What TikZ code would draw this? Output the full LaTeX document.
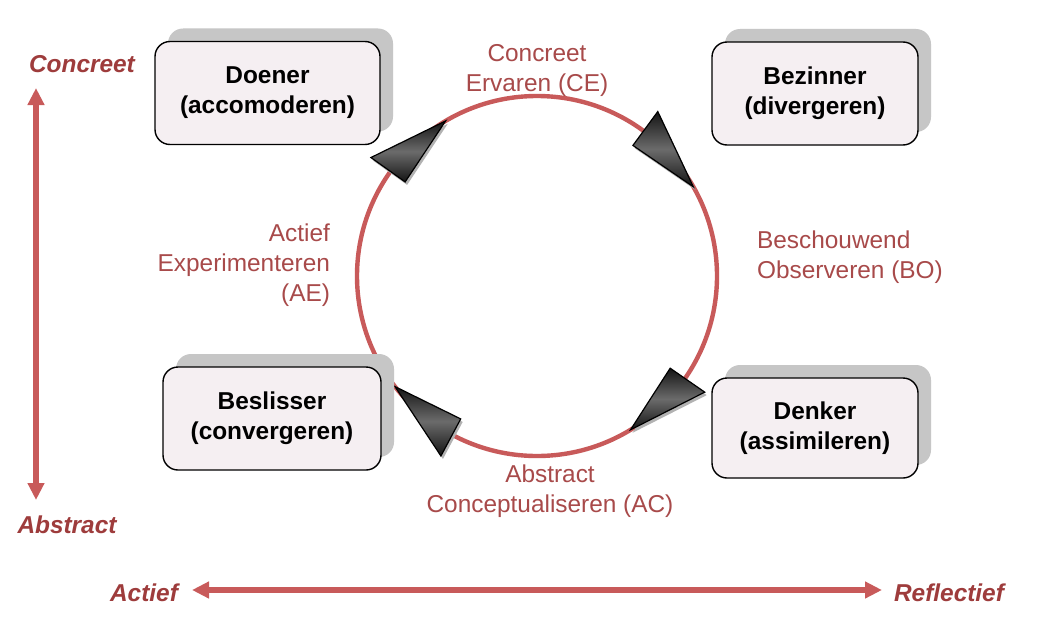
\documentclass[tikz,border=0pt]{standalone}
\usepackage{fontspec}
\setmainfont{Liberation Sans}
\definecolor{CycleRed}{HTML}{C85A5A}
\definecolor{LabelRed}{HTML}{A84A4A}
\definecolor{AxisRed}{HTML}{9E3C3C}
\definecolor{BoxFill}{HTML}{F5EFF2}
\definecolor{BoxShadow}{HTML}{C6C6C6}
\usetikzlibrary{arrows.meta, positioning, calc, shadows}

\begin{document}
\begin{tikzpicture}[x=0.5pt, y=0.5pt,
  stylebox/.style={draw=black, line width=0.7pt, fill=BoxFill, rounded corners=7.5pt,
    minimum width=#1, minimum height=51.5pt, align=center,
    font=\fontsize{12.2}{15}\selectfont\bfseries,
    drop shadow={shadow xshift=6.5pt, shadow yshift=6.5pt, fill=BoxShadow, opacity=1}},
  cyclelabel/.style={text=LabelRed, font=\fontsize{12.2}{15}\selectfont},
  axislabel/.style={text=AxisRed, font=\fontsize{12.2}{15}\selectfont\bfseries\itshape},
  axisarrow/.style={CycleRed, line width=3pt, {Triangle[width=8pt, length=8.5pt]}-{Triangle[width=8pt, length=8.5pt]}}]
  \useasboundingbox (0,0) rectangle (1038,623);
  \fill[white] (0,0) rectangle (1038,623);

  % cycle
  \coordinate (c) at (537,347);
  \draw[CycleRed, line width=2.2pt] (c) circle[radius=180];
  \foreach \t in {120.5, 29.7, -58.7, -142.1} {
    \fill[gray!60] ($(c)+(\t:180)+(2,-3)$) -- ($(c)+(\t+24:162)+(2,-3)$)
      -- ($(c)+(\t+24:204)+(2,-3)$) -- cycle;
    \shadedraw[draw=black, line width=0.6pt, shading angle=\t-78,
      top color=black!92, bottom color=black!92, middle color=black!58]
      ($(c)+(\t:180)$) -- ($(c)+(\t+24:162)$) -- ($(c)+(\t+24:204)$) -- cycle;
  }

  % styles
  \node[stylebox=112.5pt] (doener) at (267.5,530) {Doener\\(accomoderen)};
  \node[stylebox=103pt] (bezinner) at (815,529.5) {Bezinner\\(divergeren)};
  \node[stylebox=109pt] (beslisser) at (272,204.5) {Beslisser\\(convergeren)};
  \node[stylebox=103pt, minimum height=50pt] (denker) at (815,195) {Denker\\(assimileren)};

  % phases
  \node[cyclelabel, align=center] (ce) at (537,552) {Concreet\\Ervaren (CE)};
  \node[cyclelabel, align=left, anchor=west] (bo) at (750,365.5) {Beschouwend\\Observeren (BO)};
  \node[cyclelabel, align=right, anchor=east] (ae) at (337,358) {Actief\\Experimenteren\\(AE)};
  \node[cyclelabel, align=center] (ac) at (550,131.5) {Abstract\\Conceptualiseren (AC)};

  % axes
  \node[axislabel] (concreet) at (82,559) {Concreet};
  \node[axislabel] (abstract) at (67,98) {Abstract};
  \node[axislabel] (actief) at (144,30) {Actief};
  \node[axislabel] (reflectief) at (949,30) {Reflectief};
  \coordinate (vtop) at (36,535);
  \coordinate (vbot) at (36,123);
  \coordinate (hleft) at (192,33);
  \coordinate (hright) at (882,33);
  \draw[axisarrow] (vtop) -- (vbot);
  \draw[axisarrow] (hleft) -- (hright);
\end{tikzpicture}
\end{document}
